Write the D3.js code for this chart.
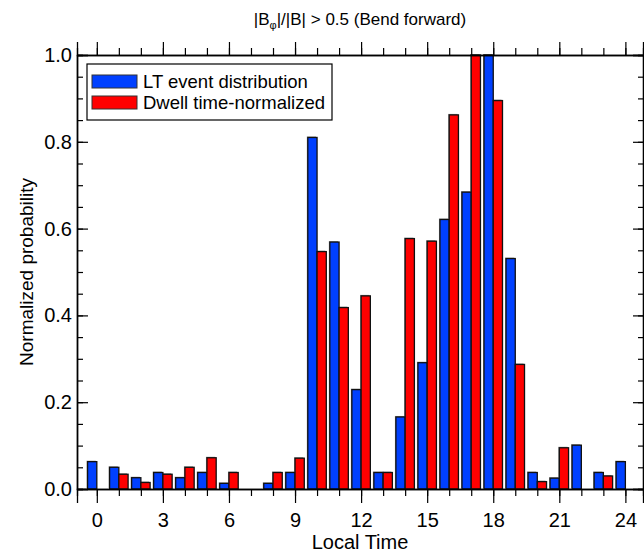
<!DOCTYPE html>
<html>
<head>
<meta charset="utf-8">
<script src="https://cdn.jsdelivr.net/npm/d3@7"></script>
<style>
  body { margin: 0; background: #fff; }
  text { font-family: 'Liberation Sans', Helvetica, Arial, sans-serif; fill: #000; }
</style>
</head>
<body>
<div id="chart"></div>
<script>
// local time bins (hours)
const hours = [0, 1, 2, 3, 4, 5, 6, 7, 8, 9, 10, 11, 12, 13, 14, 15, 16, 17, 18, 19, 20, 21, 22, 23, 24]
// LT event distribution (blue)
const ltEvent = [0.063, 0.050, 0.026, 0.038, 0.026, 0.038, 0.013, 0, 0.013, 0.038, 0.810, 0.569, 0.229, 0.038, 0.166, 0.291, 0.621, 0.684, 1.0, 0.531, 0.038, 0.025, 0.101, 0.038, 0.063]
// dwell time-normalized (red)
const dwellNorm = [0, 0.034, 0.015, 0.034, 0.050, 0.072, 0.038, 0, 0.038, 0.071, 0.547, 0.418, 0.445, 0.038, 0.577, 0.571, 0.862, 1.0, 0.895, 0.287, 0.017, 0.095, 0, 0.030, 0]
const seriesNames = ['LT event distribution', 'Dwell time-normalized']
const seriesColors = ['#0040ff', '#ff0000']
const xTickValues = [0, 3, 6, 9, 12, 15, 18, 21, 24]
const yTickValues = [0, 0.2, 0.4, 0.6, 0.8, 1.0]

const width = 644
const height = 554
const plot = { left: 77, right: 643, top: 55, bottom: 489 }

const svg = d3
  .select('#chart')
  .append('svg')
  .attr('width', width)
  .attr('height', height)

const xPositionScale = d3
  .scaleLinear()
  .domain([-0.9, 24.8])
  .range([plot.left, plot.right])

const yPositionScale = d3
  .scaleLinear()
  .domain([0, 1])
  .range([plot.bottom, plot.top])

const barW = 0.42

// combine into rows for drawing
const bars = []
hours.forEach((h, i) => {
  bars.push({ hour: h, value: ltEvent[i], x0: h - barW, s: 0 })
  bars.push({ hour: h, value: dwellNorm[i], x0: h, s: 1 })
})
const shown = bars.filter(d => d.value > 0)

// faint shadow behind each bar
svg
  .selectAll('.shadow')
  .data(shown)
  .enter()
  .append('rect')
  .attr('class', 'shadow')
  .attr('x', d => xPositionScale(d.x0) - 1)
  .attr('y', d => yPositionScale(d.value) - 1)
  .attr('width', d => xPositionScale(d.x0 + barW) - xPositionScale(d.x0))
  .attr('height', d => plot.bottom - yPositionScale(d.value))
  .attr('fill', '#999')

svg
  .selectAll('.bar')
  .data(shown)
  .enter()
  .append('rect')
  .attr('class', 'bar')
  .attr('x', d => xPositionScale(d.x0))
  .attr('y', d => yPositionScale(d.value))
  .attr('width', d => xPositionScale(d.x0 + barW) - xPositionScale(d.x0))
  .attr('height', d => plot.bottom - yPositionScale(d.value))
  .attr('fill', d => seriesColors[d.s])
  .attr('stroke', '#111')
  .attr('stroke-width', 1.3)

// axes: bottom/top ticks point outward, left/right inward
const xMinor = hours
const yMinor = d3.range(0, 1.0001, 0.05)

const xAxisBottom = d3.axisBottom(xPositionScale)
  .tickValues(xTickValues).tickSize(14).tickPadding(10).tickFormat(d3.format('d'))
svg.append('g')
  .attr('class', 'axis')
  .attr('transform', 'translate(0,' + plot.bottom + ')')
  .call(d3.axisBottom(xPositionScale).tickValues(xMinor).tickSize(7).tickFormat(''))
svg.append('g')
  .attr('class', 'axis x-axis')
  .attr('transform', 'translate(0,' + plot.bottom + ')')
  .call(xAxisBottom)

svg.append('g')
  .attr('class', 'axis')
  .attr('transform', 'translate(0,' + plot.top + ')')
  .call(d3.axisTop(xPositionScale).tickValues(xMinor).tickSize(7).tickFormat(''))
svg.append('g')
  .attr('class', 'axis')
  .attr('transform', 'translate(0,' + plot.top + ')')
  .call(d3.axisTop(xPositionScale).tickValues(xTickValues).tickSize(13).tickFormat(''))

svg.append('g')
  .attr('class', 'axis')
  .attr('transform', 'translate(' + plot.left + ',0)')
  .call(d3.axisRight(yPositionScale).tickValues(yMinor).tickSize(6).tickFormat(''))
svg.append('g')
  .attr('class', 'axis')
  .attr('transform', 'translate(' + plot.left + ',0)')
  .call(d3.axisRight(yPositionScale).tickValues(yTickValues).tickSize(11).tickFormat(''))
svg.append('g')
  .attr('class', 'axis y-axis')
  .attr('transform', 'translate(' + plot.left + ',0)')
  .call(d3.axisLeft(yPositionScale).tickValues(yTickValues).tickSize(0).tickPadding(5).tickFormat(d3.format('.1f')))

svg.append('g')
  .attr('class', 'axis')
  .attr('transform', 'translate(' + plot.right + ',0)')
  .call(d3.axisLeft(yPositionScale).tickValues(yMinor).tickSize(5).tickFormat(''))
svg.append('g')
  .attr('class', 'axis')
  .attr('transform', 'translate(' + plot.right + ',0)')
  .call(d3.axisLeft(yPositionScale).tickValues(yTickValues).tickSize(10).tickFormat(''))

svg.selectAll('.axis path').attr('stroke', '#000').attr('stroke-width', 1.3)
svg.selectAll('.axis line').attr('stroke', '#000').attr('stroke-width', 1.2)
svg.selectAll('.axis text')
  .style('font-family', "'Liberation Sans', Helvetica, Arial, sans-serif")
  .attr('font-size', 20)
  .attr('fill', '#000')

// axis titles
svg.append('text')
  .text('Local Time')
  .attr('x', (plot.left + plot.right) / 2)
  .attr('y', 549)
  .attr('text-anchor', 'middle')
  .attr('font-size', 20)

svg.append('text')
  .text('Normalized probability')
  .attr('transform', 'translate(33,' + (plot.top + plot.bottom) / 2 + ') rotate(-90)')
  .attr('text-anchor', 'middle')
  .attr('font-size', 19)

// title with subscript phi
const title = svg.append('text')
  .attr('x', (plot.left + plot.right) / 2)
  .attr('y', 25)
  .attr('text-anchor', 'middle')
  .attr('font-size', 17)
title.append('tspan').text('|B')
title.append('tspan').text('φ').attr('font-size', 11).attr('dy', 4)
title.append('tspan').text('|/|B| > 0.5 (Bend forward)').attr('dy', -4)

// legend
const legend = svg.append('g').attr('transform', 'translate(87,64)')
legend.append('rect')
  .attr('width', 245)
  .attr('height', 56)
  .attr('fill', '#fff')
  .attr('stroke', '#000')
  .attr('stroke-width', 1.2)

seriesNames.forEach((name, i) => {
  legend.append('rect')
    .attr('x', 5)
    .attr('y', 11 + i * 21)
    .attr('width', 45)
    .attr('height', 13)
    .attr('fill', seriesColors[i])
    .attr('stroke', '#333')
    .attr('stroke-width', 1)
  legend.append('text')
    .text(name)
    .attr('x', 56)
    .attr('y', 24 + i * 21)
    .attr('font-size', 18.5)
})
</script>
</body>
</html>
